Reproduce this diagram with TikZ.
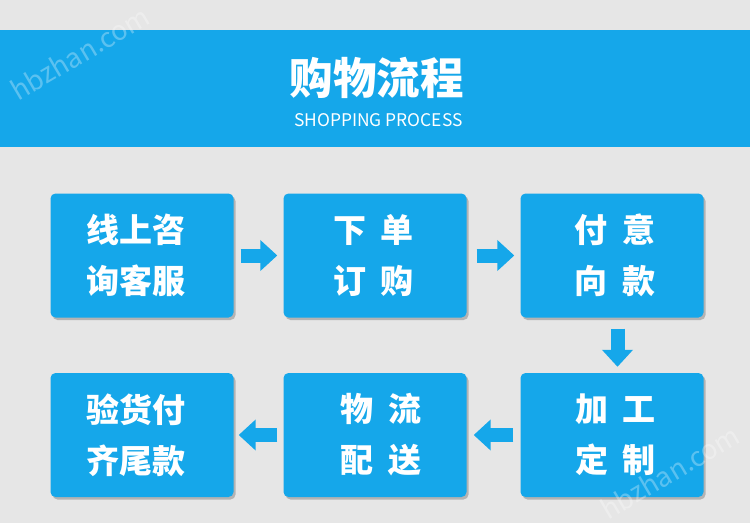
\documentclass[tikz,border=0pt]{standalone}
\usepackage{fontspec}
\setmainfont{Noto Sans CJK SC}
\usetikzlibrary{arrows.meta,shadows}
\definecolor{procblue}{HTML}{15A7EA}
\definecolor{pagegrey}{HTML}{E6E6E6}
\newcommand{\hzgap}{\hspace{0.45em}}

\begin{document}
\begin{tikzpicture}[x=1pt, y=-1pt,
    stepbox/.style={fill=procblue, rounded corners=5pt, minimum width=183pt,
        minimum height=124pt, text=white, align=center,
        font=\bfseries\fontsize{33}{51}\selectfont,
        drop shadow={shadow xshift=2pt, shadow yshift=-2.5pt, fill=black, opacity=0.22}},
    flow/.style={procblue, line width=14pt, -{Triangle[width=30pt,length=17pt]}},
    mark wm/.style={rotate=30.6, text=white, opacity=0.3, font=\fontsize{27}{27}\selectfont}]
    \useasboundingbox (0,0) rectangle (750,523);
    \fill[pagegrey] (0,0) rectangle (750,523);
    \fill[procblue] (0,30) rectangle (750,147);

    \node[text=white, font=\bfseries\fontsize{43.5}{43.5}\selectfont] (title) at (376.5,78) {购物流程};
    \node[text=white, font=\fontsize{17.4}{17.4}\selectfont] (subtitle) at (378.5,120) {SHOPPING PROCESS};

    \node[stepbox] (zixun) at (142,255.5) {\hspace{-12pt}线上咨\\\hspace{-12pt}询客服};
    \node[stepbox] (xiadan) at (375,255.5) {\hspace{-3pt}下\hzgap{}单\\\hspace{-3pt}订\hzgap{}购};
    \node[stepbox] (fukuan) at (612,255.5) {\hspace{6pt}付\hzgap{}意\\\hspace{6pt}向\hzgap{}款};
    \node[stepbox] (jiagong) at (612,435) {\hspace{7pt}加\hzgap{}工\\\hspace{7pt}定\hzgap{}制};
    \node[stepbox] (wuliu) at (375,435) {\hspace{12pt}物\hzgap{}流\\\hspace{12pt}配\hzgap{}送};
    \node[stepbox] (yanhuo) at (142,435) {\hspace{-12pt}验货付\\\hspace{-12pt}齐尾款};

    \draw[flow, shorten <=7pt, shorten >=6pt] (zixun.east) -- (xiadan.west);
    \draw[flow, shorten <=10pt, shorten >=6pt] (xiadan.east) -- (fukuan.west);
    \draw[flow, shorten <=11pt, shorten >=6pt] ([xshift=5.5pt]fukuan.south) -- ([xshift=5.5pt]jiagong.north);
    \draw[flow, shorten <=7pt, shorten >=7pt] (jiagong.west) -- (wuliu.east);
    \draw[flow, shorten <=6pt, shorten >=5pt] (wuliu.west) -- (yanhuo.east);

    % watermarks
    \node[mark wm] (wm1) at (80,53) {hbzhan.com};
    \node[mark wm] (wm2) at (670,472) {hbzhan.com};
\end{tikzpicture}
\end{document}
